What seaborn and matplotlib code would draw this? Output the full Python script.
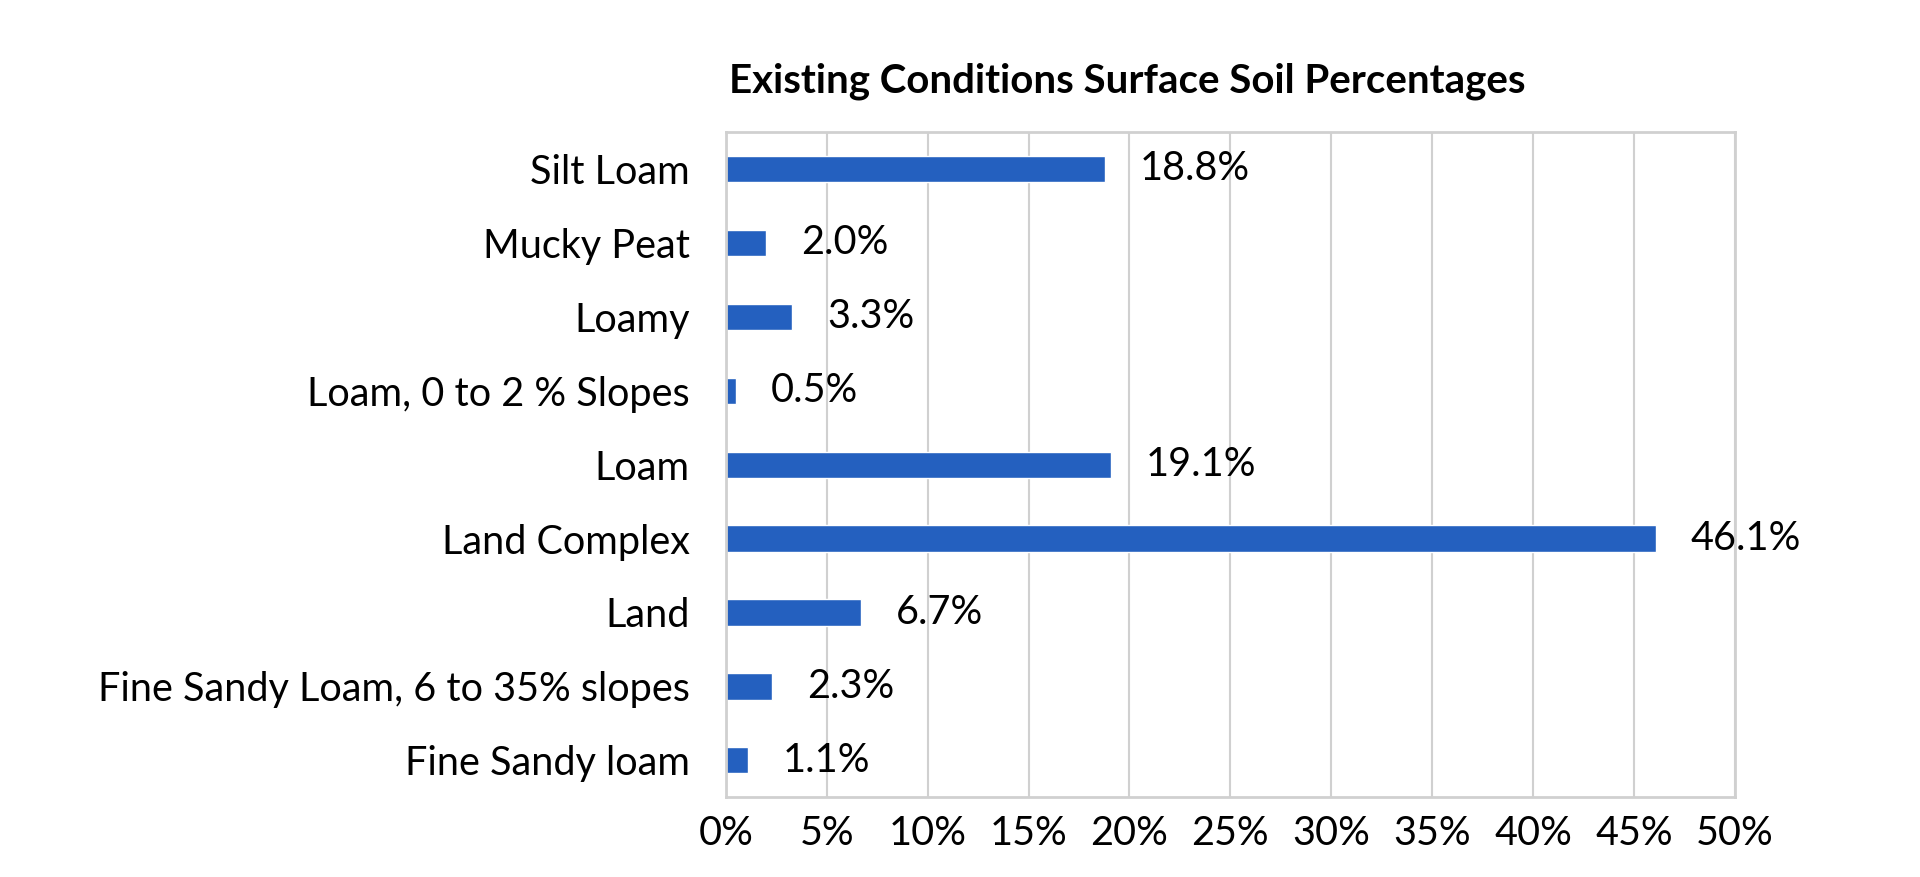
import seaborn as sns
import matplotlib.pyplot as plt
import pandas as pd

# Dados do grafico (de cima para baixo)
categorias = [
    "Silt Loam",
    "Mucky Peat",
    "Loamy",
    "Loam, 0 to 2 % Slopes",
    "Loam",
    "Land Complex",
    "Land",
    "Fine Sandy Loam, 6 to 35% slopes",
    "Fine Sandy loam",
]
percentuais = [18.8, 2.0, 3.3, 0.5, 19.1, 46.1, 6.7, 2.3, 1.1]
ticks_x = [0, 5, 10, 15, 20, 25, 30, 35, 40, 45, 50]
titulo = "Existing Conditions Surface Soil Percentages"

df = pd.DataFrame({"solo": categorias, "pct": percentuais})

sns.set_style("white")
plt.rcParams["font.family"] = ["Lato", "DejaVu Sans"]
plt.rcParams["text.color"] = "black"
plt.rcParams["xtick.color"] = "black"
plt.rcParams["ytick.color"] = "black"

fig = plt.figure(figsize=(19.2, 8.77), dpi=100)
ax = fig.add_axes([0.378, 0.0909, 0.5256, 0.7586])

sns.barplot(data=df, x="pct", y="solo", orient="h", color="#2460BF",
            saturation=1, width=0.355, ax=ax)

ax.bar_label(ax.containers[0], fmt="{:.1f}%", padding=25, fontsize=28.5)

ax.set_xlim(0, 50)
ax.set_xticks(ticks_x)
ax.set_xticklabels([f"{t}%" for t in ticks_x])
ax.set_xlabel("")
ax.set_ylabel("")

ax.grid(True, axis="x", color="#D0D0D0", lw=1.5)
ax.set_axisbelow(True)
for s in ax.spines.values():
    s.set_color("#D0D0D0")
    s.set_linewidth(2)

ax.tick_params(axis="y", length=0, pad=26, labelsize=28.5)
ax.tick_params(axis="x", length=3, color="#D0D0D0", width=1.5, pad=10,
               labelsize=28.5, labelcolor="black")

fig.text(0.587, 0.894, titulo, ha="center", va="baseline",
         fontsize=29, fontweight="bold")

plt.savefig("out.png", dpi=100)
